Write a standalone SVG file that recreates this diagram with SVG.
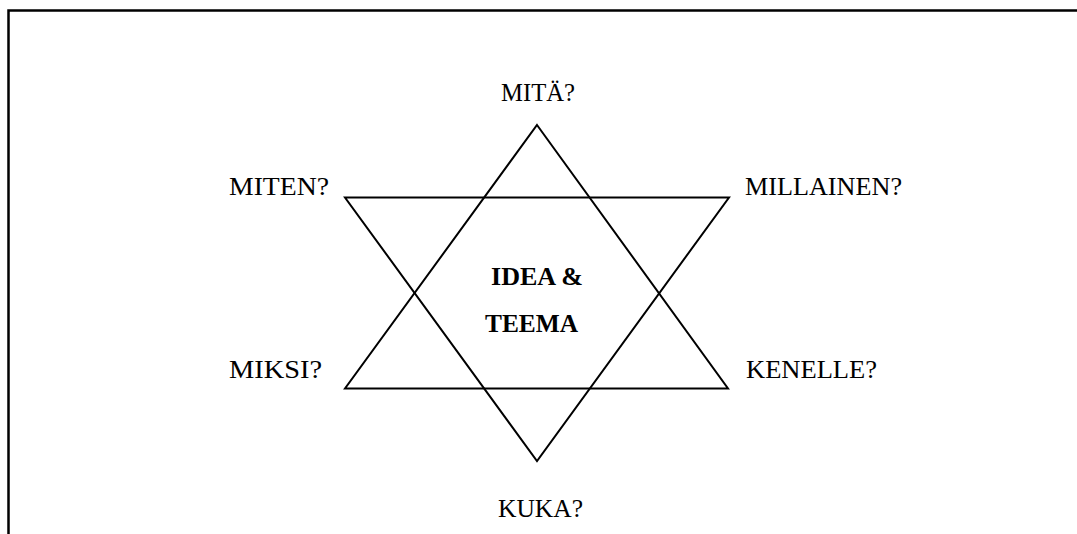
<svg xmlns="http://www.w3.org/2000/svg" width="1077" height="534" viewBox="0 0 1077 534">
<style>
.lbl{font-family:"Liberation Serif","Times New Roman",serif;font-size:25px;fill:#000}
.ctr{font-family:"Liberation Serif","Times New Roman",serif;font-size:25px;font-weight:bold;fill:#000}
.tri{fill:none;stroke:#000;stroke-width:2;stroke-linejoin:miter}
.frame{fill:none;stroke:#000;stroke-width:2.5}
</style>
<rect width="1077" height="534" fill="#fff"/>
<path class="frame" d="M8.5,534 L8.5,10.5 L1077,10.5"/>
<g id="connectors">
<polygon id="triangle-up" class="tri" points="537,125 728,388.5 345,388.5"/>
<polygon id="triangle-down" class="tri" points="345,197.5 729,197.5 537,461"/>
</g>
<g id="node-center"><text class="ctr" x="491" y="285" textLength="92" lengthAdjust="spacingAndGlyphs">IDEA &amp;</text><text class="ctr" x="485" y="332" textLength="93" lengthAdjust="spacingAndGlyphs">TEEMA</text></g>
<g id="node-mita"><text class="lbl" x="501" y="101" textLength="74" lengthAdjust="spacingAndGlyphs">MITÄ?</text></g>
<g id="node-miten"><text class="lbl" x="229" y="195" textLength="100" lengthAdjust="spacingAndGlyphs">MITEN?</text></g>
<g id="node-millainen"><text class="lbl" x="745" y="195" textLength="157" lengthAdjust="spacingAndGlyphs">MILLAINEN?</text></g>
<g id="node-miksi"><text class="lbl" x="229" y="378" textLength="93" lengthAdjust="spacingAndGlyphs">MIKSI?</text></g>
<g id="node-kenelle"><text class="lbl" x="746" y="378" textLength="131" lengthAdjust="spacingAndGlyphs">KENELLE?</text></g>
<g id="node-kuka"><text class="lbl" x="498" y="517" textLength="85" lengthAdjust="spacingAndGlyphs">KUKA?</text></g>
</svg>
